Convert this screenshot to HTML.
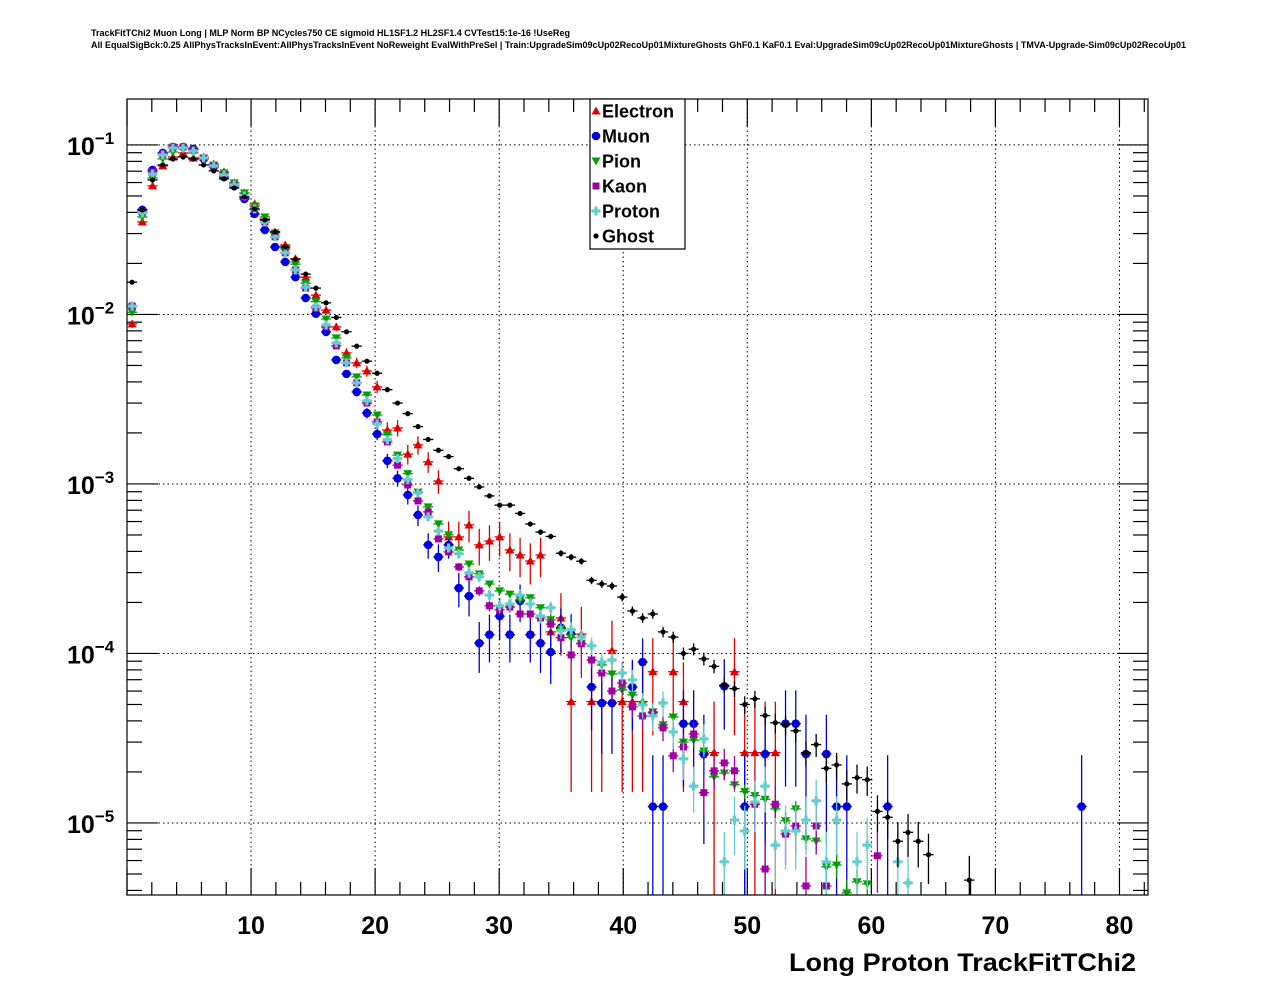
<!DOCTYPE html>
<html><head><meta charset="utf-8"><style>
html,body{margin:0;padding:0;background:#fff;}
svg{display:block;font-family:"Liberation Sans",sans-serif;}
</style></head><body>
<svg id="chart" width="1276" height="996" viewBox="0 0 1276 996" xmlns="http://www.w3.org/2000/svg">
<rect x="0" y="0" width="1276" height="996" fill="#fff"/>
<text x="91" y="36" font-size="9" font-weight="bold" textLength="479" lengthAdjust="spacingAndGlyphs">TrackFitTChi2 Muon Long | MLP Norm BP NCycles750 CE sigmoid HL1SF1.2 HL2SF1.4 CVTest15:1e-16 !UseReg</text>
<text x="91" y="48" font-size="9" font-weight="bold" textLength="1095" lengthAdjust="spacingAndGlyphs">All EqualSigBck:0.25 AllPhysTracksInEvent:AllPhysTracksInEvent NoReweight EvalWithPreSel | Train:UpgradeSim09cUp02RecoUp01MixtureGhosts GhF0.1 KaF0.1 Eval:UpgradeSim09cUp02RecoUp01MixtureGhosts | TMVA-Upgrade-Sim09cUp02RecoUp01</text>
<defs><clipPath id="frameclip"><rect x="127" y="99" width="1021" height="796"/></clipPath></defs>
<g id="grid"></g>
<g id="axes"></g>
<g id="series" clip-path="url(#frameclip)"></g>
<rect x="127" y="99" width="1021" height="796" fill="none" stroke="#000" stroke-width="1.2"/>
<g id="legend"></g>
<text x="1136" y="971" font-size="25" font-weight="bold" text-anchor="end" textLength="347" lengthAdjust="spacingAndGlyphs">Long Proton TrackFitTChi2</text>
</svg>
<script>
const seriesNames = ["Electron","Muon","Pion","Kaon","Proton","Ghost"];
const electronValues = [0.00879,0.0351,0.0573,0.0752,0.0849,0.0897,0.0838,0.0849,0.0772,0.0693,0.0597,0.0521,0.0449,0.0366,0.0307,0.0257,0.0213,0.0166,0.0130,0.0106,0.00844,0.00593,0.00518,0.00464,0.00374,0.00208,0.00214,0.00150,0.00170,0.00135,0.00104,0.000487,0.000487,0.000573,0.000437,0.000461,0.000487,0.000408,0.000381,0.000351,0.000381,0.000134,0.000162,5.2e-5,1.3e-4,5.2e-5,5.2e-5,1.04e-4,5.2e-5,5.2e-5,5.2e-5,7.8e-5,null,7.8e-5,5.2e-5,null,null,2.6e-5,null,7.8e-5,2.6e-5,2.6e-5,2.6e-5,2.6e-5];
const muonValues = [0.0112,0.0414,0.0712,0.0897,0.0973,0.0973,0.0947,0.0827,0.0742,0.0647,0.0573,0.0480,0.0392,0.0315,0.0250,0.0204,0.0166,0.0125,0.0101,0.00789,0.00539,0.00446,0.00349,0.00262,0.00197,0.00137,0.00108,0.000861,0.000656,0.000437,0.000371,0.000437,0.000243,0.000218,0.000115,0.000129,0.000166,0.000129,0.000204,0.000129,0.000115,0.000102,0.000142,0.000130,null,6.34e-5,5.1e-5,5.1e-5,null,6.34e-5,8.9e-5,1.25e-5,1.25e-5,null,3.85e-5,3.85e-5,2.55e-5,null,6.4e-5,null,1.25e-5,null,2.55e-5,null,3.85e-5,3.85e-5,2.55e-5,null,2.55e-5,1.25e-5,1.25e-5,null,null,null,1.25e-5,null,null,null,null,null,null,null,null,null,null,null,null,null,null,null,null,null,null,1.25e-5];
const pionValues = [0.0103,0.0376,0.0639,0.0827,0.0909,0.0947,0.0897,0.0838,0.0762,0.0684,0.0597,0.0521,0.0437,0.0376,0.0303,0.0243,0.0198,0.0153,0.0119,0.0094,0.00727,0.00554,0.00428,0.00335,0.00255,0.00195,0.00148,0.00115,0.000897,0.000732,0.000581,0.000501,0.000408,0.000337,0.000295,0.000257,0.000234,0.000224,0.000207,0.000213,0.000186,0.000158,0.000140,0.000124,0.000115,9.15e-5,8.55e-5,7.57e-5,6.09e-5,5.69e-5,4.97e-5,4.52e-5,3.79e-5,4.22e-5,3.00e-5,3.08e-5,2.66e-5,1.87e-5,1.97e-5,1.68e-5,1.53e-5,1.45e-5,1.38e-5,1.21e-5,1.03e-5,1.21e-5,8.05e-6,7.83e-6,5.5e-6,5.65e-6,3.87e-6,4.5e-6,4.37e-6];
const kaonValues = [0.0112,0.0403,0.0693,0.0885,0.0973,0.0973,0.0934,0.0838,0.0752,0.0665,0.0581,0.0493,0.0414,0.0351,0.0287,0.0231,0.0183,0.0143,0.0109,0.00844,0.00652,0.00518,0.00395,0.00300,0.00232,0.00177,0.00129,0.000986,0.000794,0.000684,0.000474,0.000397,0.000324,0.000283,0.000234,0.000191,0.000181,0.000188,0.000171,0.000171,0.000162,0.000149,0.000124,9.8e-5,0.000114,9.15e-5,7.67e-5,6.0e-5,6.7e-5,4.84e-5,4.28e-5,4.46e-5,3.64e-5,2.49e-5,2.81e-5,3.35e-5,1.51e-5,2.03e-5,2.26e-5,2.03e-5,null,1.29e-5,5.35e-6,1.29e-5,8.6e-6,9.6e-6,4.25e-6,9.6e-6,4.25e-6,null,null,null,null,6.4e-6];
const protonValues = [0.0112,0.0397,0.0674,0.0873,0.0960,0.0960,0.0921,0.0838,0.0752,0.0665,0.0581,0.0501,0.0419,0.0351,0.0287,0.0231,0.0183,0.0145,0.0111,0.00867,0.00679,0.00518,0.00395,0.00309,0.00226,0.00182,0.00141,0.00106,0.000885,0.000639,0.000528,0.000419,0.000387,0.000299,0.000283,0.000221,0.000191,0.000196,0.000221,0.000196,0.000166,0.000186,0.000136,0.000138,0.000125,0.000111,8.9e-5,9.15e-5,7.67e-5,6.98e-5,4.97e-5,4.28e-5,5.1e-5,3.44e-5,2.39e-5,1.65e-5,3.13e-5,null,5.9e-6,1.04e-5,8.97e-6,1.33e-5,1.65e-5,7.4e-6,8.97e-6,8.97e-6,1.04e-5,1.35e-5,5.9e-6,1.04e-5,null,5.9e-6,7.4e-6,null,null,5.9e-6,4.43e-6];
const ghostValues = [0.0155,0.0414,0.0622,0.0762,0.0826,0.0849,0.0826,0.0762,0.0703,0.0631,0.0557,0.0493,0.0419,0.0361,0.0307,0.025,0.0212,0.0173,0.0143,0.0117,0.0096,0.0079,0.0065,0.0053,0.0045,0.0036,0.0030,0.0026,0.00218,0.00183,0.00158,0.00145,0.00123,0.00108,0.00096,0.00085,0.00075,0.00075,0.00067,0.00058,0.00052,0.00049,0.00039,0.00037,0.00035,0.00027,0.000257,0.00025,0.000215,0.000178,0.000162,0.000171,0.000134,0.000125,1.0e-4,1.06e-4,9.3e-5,8.4e-5,6.5e-5,6.2e-5,5.0e-5,5.4e-5,4.3e-5,3.9e-5,3.8e-5,3.5e-5,2.6e-5,2.9e-5,2.1e-5,2.2e-5,1.7e-5,1.85e-5,1.8e-5,1.17e-5,1.08e-5,7.8e-6,8.8e-6,7.8e-6,6.5e-6,null,null,null,4.6e-6];
const entryWeights = [2.6e-5,1.27e-5,1.5e-7,1.0e-6,1.5e-6,7.0e-7];
const xTickLabels = ["10","20","30","40","50","60","70","80"];
const yTickLabels = ["\u22125","\u22124","\u22123","\u22122","\u22121"];

const NS = "http://www.w3.org/2000/svg";
const PX0 = 127, PX1 = 1148, PY0 = 99, PY1 = 895;
const XMIN = 0, XMAX = 82.3, BINW = 0.823;
const LOGMIN = -5.425, LOGMAX = -0.729;
function xs(u){ return PX0 + (u - XMIN) / (XMAX - XMIN) * (PX1 - PX0); }
function ys(v){ return PY1 - (Math.log10(v) - LOGMIN) / (LOGMAX - LOGMIN) * (PY1 - PY0); }
function mk(tag, attrs, parent){ const e = document.createElementNS(NS, tag); for (const k in attrs) e.setAttribute(k, attrs[k]); parent.appendChild(e); return e; }

const grid = document.getElementById('grid');
const axes = document.getElementById('axes');
// x grid and ticks
for (let u = 0; u <= 82; u += 2) {
  const x = xs(u);
  const major = (u % 10 === 0);
  const len = major ? 27 : 13;
  const t1 = mk('line', {x1:x, x2:x, y1:PY1, y2:PY1-len, stroke:'#000', 'stroke-width':1.2}, axes);
  
  
  const t2 = mk('line', {x1:x, x2:x, y1:PY0, y2:PY0+len, stroke:'#000', 'stroke-width':1.2}, axes);
  
  
  if (major && u > 0) {
    const g = mk('line', {x1:x, x2:x, y1:PY0, y2:PY1, stroke:'#000', 'stroke-width':1, 'stroke-dasharray':'1.5,3'}, grid);
    
    
  }
}
xTickLabels.forEach(function(lbl){
  const u = parseFloat(lbl);
  const t = mk('text', {x:xs(u), y:934, 'font-size':25, 'font-weight':'bold', 'text-anchor':'middle'}, axes);
  t.textContent = lbl;
  
  
});
// y ticks
for (let d = -6; d <= -1; d++) {
  for (let m = 1; m <= 9; m++) {
    const v = m * Math.pow(10, d);
    const lg = Math.log10(v);
    if (lg < LOGMIN || lg > LOGMAX) continue;
    const y = ys(v);
    const len = (m === 1) ? 31 : 15;
    const a = mk('line', {x1:PX0, x2:PX0+len, y1:y, y2:y, stroke:'#000', 'stroke-width':1.2}, axes);
    
    
    const b = mk('line', {x1:PX1, x2:PX1-len, y1:y, y2:y, stroke:'#000', 'stroke-width':1.2}, axes);
    
    
    if (m === 1) {
      const g = mk('line', {x1:PX0, x2:PX1, y1:y, y2:y, stroke:'#000', 'stroke-width':1, 'stroke-dasharray':'1.5,3'}, grid);
      
      
    }
  }
}
yTickLabels.forEach(function(lbl, i){
  const v = Math.pow(10, -5 + i);
  const y = ys(v);
  const t = mk('text', {x:67, y:y+10, 'font-size':25, 'font-weight':'bold'}, axes);
  
  
  const base = document.createElementNS(NS, 'tspan'); base.textContent = '10'; t.appendChild(base);
  const sup = document.createElementNS(NS, 'tspan');
  sup.setAttribute('dy', -11); sup.setAttribute('font-size', 17); sup.textContent = lbl; t.appendChild(sup);
});

const colors = ['#e00000','#0000dd','#00a000','#a000a0','#66cccc','#000000'];
const allSeries = [electronValues, muonValues, pionValues, kaonValues, protonValues, ghostValues];
const markerNames = ['electron-point','muon-point','pion-point','kaon-point','proton-point','ghost-point'];

function drawMarker(kind, x, y, col, parent){
  let e;
  if (kind === 0) e = mk('polygon', {points:(x-4.5)+','+(y+3.5)+' '+(x+4.5)+','+(y+3.5)+' '+x+','+(y-4.5), fill:col}, parent);
  else if (kind === 1) e = mk('circle', {cx:x, cy:y, r:4.3, fill:col}, parent);
  else if (kind === 2) e = mk('polygon', {points:(x-4.5)+','+(y-3.5)+' '+(x+4.5)+','+(y-3.5)+' '+x+','+(y+4.5), fill:col}, parent);
  else if (kind === 3) e = mk('rect', {x:x-3.5, y:y-3.5, width:7, height:7, fill:col}, parent);
  else if (kind === 4) e = mk('path', {d:'M'+(x-1.6)+' '+(y-4.5)+'h3.2v2.9h2.9v3.2h-2.9v2.9h-3.2v-2.9h-2.9v-3.2h2.9z', fill:col}, parent);
  else e = mk('circle', {cx:x, cy:y, r:2.6, fill:col}, parent);
  return e;
}

const seriesG = document.getElementById('series');
allSeries.forEach(function(vals, s){
  const g = mk('g', {}, seriesG);
  
  
  const col = colors[s];
  vals.forEach(function(v, i){
    if (v === null || v <= 0) return;
    const c = (i + 0.5) * BINW;
    const x = xs(c), y = ys(v);
    const err = Math.sqrt(v * entryWeights[s]);
    const yTop = ys(v + err);
    const yBot = (v - err) > 1e-9 ? ys(v - err) : PY1 + 5;
    const vl = mk('line', {x1:x, x2:x, y1:yTop, y2:yBot, stroke:col, 'stroke-width':1.3}, g);
    
    
    const hl = mk('line', {x1:xs(c - BINW/2), x2:xs(c + BINW/2), y1:y, y2:y, stroke:col, 'stroke-width':1.3}, g);
    
    
    const m = drawMarker(s, x, y, col, g);
    
    
  });
});

// legend
const leg = document.getElementById('legend');
const box = mk('rect', {x:590, y:99, width:95, height:150, fill:'#fff', stroke:'#000', 'stroke-width':1.2}, leg);


seriesNames.forEach(function(n, s){
  const y = 111 + s * 25;
  const eg = mk('g', {}, leg);
  
  
  drawMarker(s, 596, y, colors[s], eg);
  const t = mk('text', {x:602, y:y+6.5, 'font-size':18, 'font-weight':'bold'}, eg);
  t.textContent = n;
});
</script>
</body></html>
